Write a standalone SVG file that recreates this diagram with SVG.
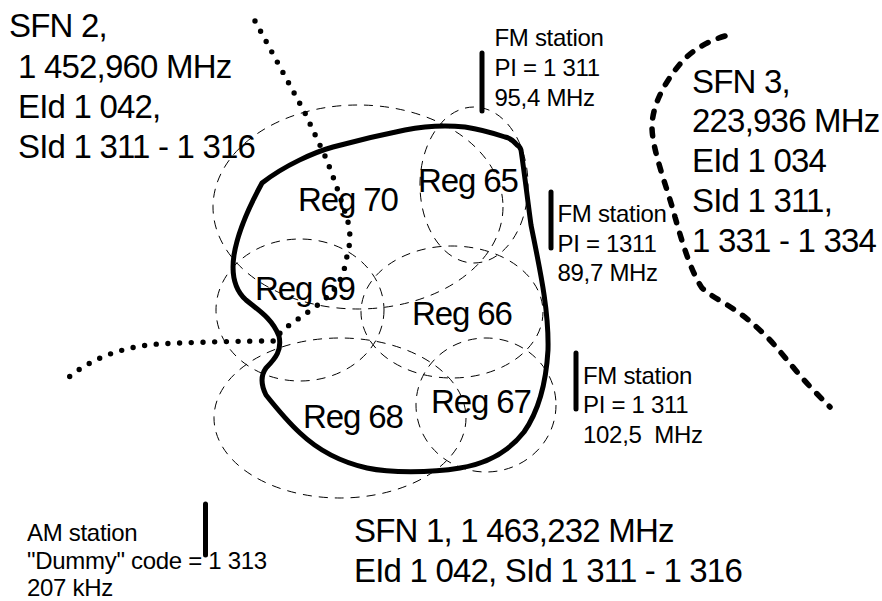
<svg xmlns="http://www.w3.org/2000/svg" width="882" height="601" viewBox="0 0 882 601">
<style>
text{font-family:"Liberation Sans",Arial,sans-serif;fill:#000}
.b{font-size:33px;letter-spacing:-.8px}
.r{font-size:33px;letter-spacing:-1.1px}
.x{font-size:24px;letter-spacing:-.3px}
.cell{fill:none;stroke:#000;stroke-width:1;stroke-dasharray:9 7}
.bar{fill:none;stroke:#000;stroke-width:5;stroke-linecap:round}
</style>
<rect width="882" height="601" fill="#fff"/>
<g id="cells">
<ellipse id="cell70" class="cell" cx="358" cy="207" rx="145" ry="102"/>
<ellipse id="cell65" class="cell" cx="474" cy="185" rx="54" ry="78"/>
<ellipse id="cell69" class="cell" cx="300" cy="310" rx="84" ry="71"/>
<ellipse id="cell66" class="cell" cx="452" cy="312" rx="91" ry="66"/>
<ellipse id="cell68" class="cell" cx="340" cy="418" rx="126" ry="80"/>
<ellipse id="cell67" class="cell" cx="486" cy="405" rx="70" ry="67"/>
</g>
<g id="connectors" fill="none" stroke="#000" stroke-linecap="round">
<path id="sfn1" stroke-width="5" stroke-linejoin="round" d="M517 145C513 140 510 138 505 137C490 132 478 129 465 127C445 125 425 126 405 130C380 135 355 141 333 147C315 152 285 165 262 183C250 205 238 230 234 255C231 275 235 290 246 300C258 310 272 318 279 336C282 350 276 358 266 368C261 375 261 385 266 395C278 410 288 422 300 433C320 452 345 463 367 468C390 473 430 473 460 468C490 463 510 450 524 432C538 412 546 385 548 350C549 310 540 270 531 225C527 195 524 170 521 150C520 147 519 146 517 145Z"/>
<path id="sfn2" stroke-width="5.4" stroke-dasharray="0 11.7" d="M255 21L305 113L325 156C333 175 343 205 348 222C351 235 350 245 348 250C346 262 345 268 343 272C338 290 325 300 308 312L281 331L276 341C240 341 200 342 158 344C135 346 100 352 69 377"/>
<path id="sfn3" stroke-width="5.5" stroke-dasharray="7 11" d="M725 36C705 42 690 52 680 64C665 82 652 105 652 127C652 150 668 190 675 217C681 238 690 270 702 288C712 297 725 303 735 310C747 318 757 327 767 337C777 347 785 358 793 367C805 382 818 395 830 407"/>
</g>
<g id="bars">
<line class="bar" x1="482" y1="53" x2="482" y2="111"/>
<line class="bar" x1="551" y1="192" x2="551" y2="248"/>
<line class="bar" x1="576" y1="353" x2="576" y2="409"/>
<line class="bar" x1="205.500" y1="504" x2="205.500" y2="555"/>
</g>
<g id="reg70"><text class="r" x="298" y="211">Reg 70</text></g>
<g id="reg65"><text class="r" x="418" y="192">Reg 65</text></g>
<g id="reg69"><text class="r" x="255" y="300">Reg 69</text></g>
<g id="reg66"><text class="r" x="412" y="325">Reg 66</text></g>
<g id="reg68"><text class="r" x="303" y="428">Reg 68</text></g>
<g id="reg67"><text class="r" x="431" y="413">Reg 67</text></g>
<g id="sfn2label">
<text class="b" x="9" y="37">SFN 2,</text>
<text class="b" x="18" y="78">1 452,960 MHz</text>
<text class="b" x="18" y="118">EId 1 042,</text>
<text class="b" x="18" y="158">SId 1 311 - 1 316</text>
</g>
<g id="sfn3label">
<text class="b" x="692" y="93">SFN 3,</text>
<text class="b" x="692" y="132">223,936 MHz</text>
<text class="b" x="692" y="172">EId 1 034</text>
<text class="b" x="692" y="212">SId 1 311,</text>
<text class="b" x="692" y="252">1 331 - 1 334</text>
</g>
<g id="sfn1label">
<text class="b" x="354" y="542">SFN 1, 1 463,232 MHz</text>
<text class="b" x="354" y="582">EId 1 042, SId 1 311 - 1 316</text>
</g>
<g id="fm1">
<text class="x" x="494.500" y="46">FM station</text>
<text class="x" x="494.500" y="76">PI = 1 311</text>
<text class="x" x="494.500" y="106">95,4 MHz</text>
</g>
<g id="fm2">
<text class="x" x="557.500" y="222">FM station</text>
<text class="x" x="557.500" y="252">PI = 1311</text>
<text class="x" x="557.500" y="281">89,7 MHz</text>
</g>
<g id="fm3">
<text class="x" x="583" y="384">FM station</text>
<text class="x" x="583" y="413">PI = 1 311</text>
<text class="x" x="583" y="443" xml:space="preserve">102,5  MHz</text>
</g>
<g id="am">
<text class="x" x="27" y="541">AM station</text>
<text class="x" x="27" y="568.500">"Dummy" code = 1 313</text>
<text class="x" x="27" y="595.500">207 kHz</text>
</g>
</svg>
